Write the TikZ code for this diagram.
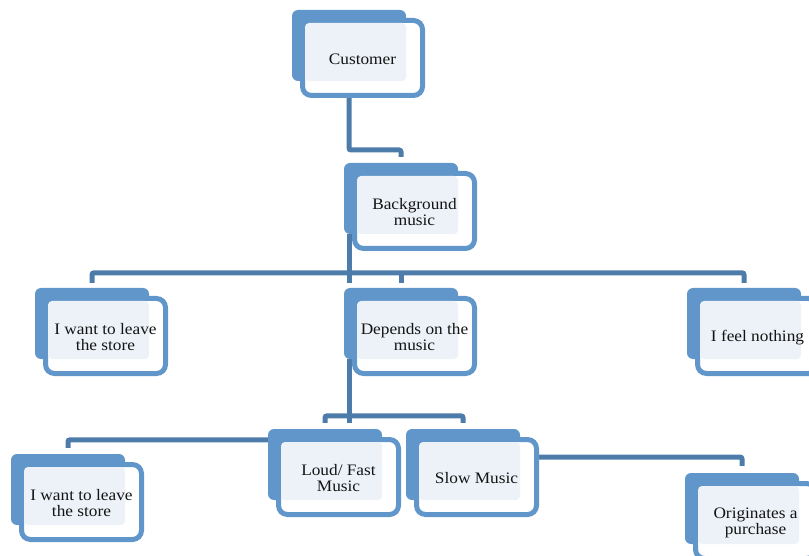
\documentclass[tikz,border=0pt]{standalone}
\usepackage{fontspec}
\setmainfont[FakeStretch=1.08]{Liberation Serif}
\usetikzlibrary{calc,backgrounds}
\definecolor{boxblue}{RGB}{96,150,201}
\definecolor{connblue}{RGB}{77,124,171}
\definecolor{paleblue}{RGB}{237,242,248}
\tikzset{
 backbox/.style={fill=boxblue, rounded corners=6pt, minimum width=114pt, minimum height=71pt, inner sep=0pt, draw=none},
 frontbox/.style={draw=boxblue, line width=5pt, fill=white, rounded corners=9pt, minimum width=120pt, minimum height=75pt, inner sep=0pt},
 palefill/.style={fill=paleblue, rounded corners=4pt},
 txt/.style={align=center, font=\fontsize{16}{16}\selectfont, text=black!92, inner sep=0pt},
 conn/.style={draw=connblue, line width=5pt, rounded corners=2pt},
}
\newcommand\orgbox[4]{%
\begin{scope}[shift={(#2,#3)}]
\node[backbox] (#1b) at (57,35.5) {};
\node[frontbox] (#1f) at (70.5,48) {};
\fill[palefill] (13,13) rectangle (114,71);
\node[txt] (#1) at (70.5,49.5) {#4};
\end{scope}}
\begin{document}
\begin{tikzpicture}[x=1pt,y=-1pt]
\path[use as bounding box, clip] (0,0) rectangle (809,556);
\orgbox{cust}{292}{10}{Customer}
\orgbox{bg}{344}{163}{Background\\music}
\orgbox{wantA}{35}{288}{I want to leave\\the store}
\orgbox{dep}{344}{288}{Depends on the\\music}
\orgbox{feel}{687}{288}{I feel nothing}
\orgbox{loud}{268}{429}{Loud/ Fast\\Music}
\orgbox{slow}{406}{429}{Slow Music}
\orgbox{wantB}{11}{454}{I want to leave\\the store}
\orgbox{orig}{685}{473}{Originates a\\purchase}
\begin{pgfonlayer}{background}
\draw[conn] (custb.south) |- (bgb.north |- 0,150) -- ($(bgb.north)+(0,-6)$);
\draw[conn] (bgb.south -| custb.south) -- ($(wantAb.north -| custb.south)+(0,-5)$);
\draw[conn] ($(wantAb.north)+(0,-5)$) |- ($(feelb.north)+(0,-15)$) -- ($(feelb.north)+(0,-5)$);
\draw[conn] ($(depb.north)+(0,-15)$) -- ($(depb.north)+(0,-5)$);
\draw[conn] (depb.south -| custb.south) -- ($(loudb.north -| custb.south)+(0,-6)$);
\draw[conn] ($(loudb.north)+(0,-6)$) |- ($(slowb.north)+(0,-13)$) -- ($(slowb.north)+(0,-6)$);
\draw[conn] ($(loudb.north west)+(0,11)$) -| ($(wantBb.north)+(0,-6)$);
\draw[conn] ($(slowf.north east)+(0,20)$) -| ($(origb.north)+(0,-7)$);
\end{pgfonlayer}
\end{tikzpicture}
\end{document}
